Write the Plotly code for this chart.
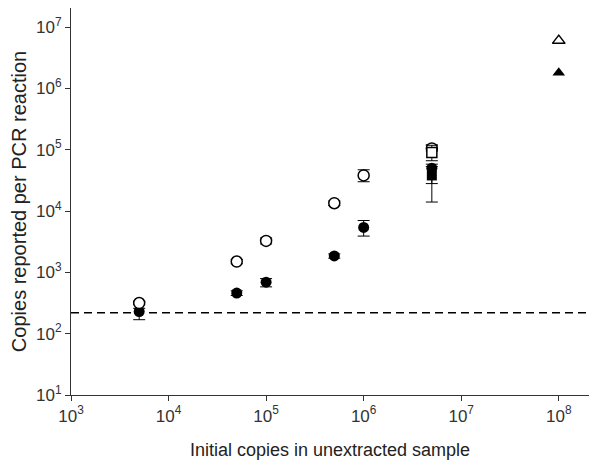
import plotly.graph_objects as go

# data
x_circles = [5e3, 5e4, 1e5, 5e5, 1e6, 5e6]

open_circle_y = [316, 1500, 3250, 13400, 38000, 105000]
open_circle_plus = [20, 120, 400, 1200, 9000, 15000]
open_circle_minus = [20, 120, 350, 1100, 8000, 10000]

filled_circle_y = [229, 460, 690, 1850, 5400, 50000]
filled_circle_plus = [30, 40, 100, 150, 1600, 8000]
filled_circle_minus = [60, 40, 110, 150, 1500, 22000]

x_squares = [5e6]
open_square_y = [90000]
open_square_plus = [28000]
open_square_minus = [24000]
filled_square_y = [38000]
filled_square_plus = [15000]
filled_square_minus = [24000]

x_triangles = [1e8]
open_triangle_y = [6.0e6]
filled_triangle_y = [1.8e6]

detection_limit = 220

tick_exps = [1, 2, 3, 4, 5, 6, 7, 8]


def err(plus, minus):
    return dict(type="data", symmetric=False, array=plus, arrayminus=minus,
                color="black", thickness=1, width=6)


fig = go.Figure()

fig.add_trace(go.Scatter(x=x_circles, y=filled_circle_y, mode="markers",
                         marker=dict(symbol="circle", size=11, color="black"),
                         error_y=err(filled_circle_plus, filled_circle_minus)))
fig.add_trace(go.Scatter(x=x_circles, y=open_circle_y, mode="markers",
                         marker=dict(symbol="circle", size=11, color="white",
                                     line=dict(color="black", width=1.5)),
                         error_y=err(open_circle_plus, open_circle_minus)))
fig.add_trace(go.Scatter(x=x_squares, y=filled_square_y, mode="markers",
                         marker=dict(symbol="square", size=10, color="black"),
                         error_y=err(filled_square_plus, filled_square_minus)))
fig.add_trace(go.Scatter(x=x_squares, y=open_square_y, mode="markers",
                         marker=dict(symbol="square", size=10, color="white",
                                     line=dict(color="black", width=1.5)),
                         error_y=err(open_square_plus, open_square_minus)))
fig.add_trace(go.Scatter(x=x_triangles, y=filled_triangle_y, mode="markers",
                         marker=dict(symbol="triangle-up", size=11, color="black")))
fig.add_trace(go.Scatter(x=x_triangles, y=open_triangle_y, mode="markers",
                         marker=dict(symbol="triangle-up", size=11, color="white",
                                     line=dict(color="black", width=1.5))))

fig.add_shape(type="line", xref="paper", x0=0, x1=1, yref="y",
              y0=detection_limit, y1=detection_limit,
              line=dict(color="black", width=1.5, dash="8px,5px"))

tick_text = ["10<sup>%d</sup>" % e for e in tick_exps]

# page body adds 8px, so the figure is a bit smaller than the window
fig.update_layout(
    width=593, height=459,
    margin=dict(l=63, r=12, t=0, b=72, autoexpand=False),
    paper_bgcolor="white", plot_bgcolor="white",
    showlegend=False,
    font=dict(family="Liberation Sans, Arial, sans-serif", color="#222", size=17),
    xaxis=dict(type="log", range=[3, 8.31], automargin=False,
               tickvals=[10 ** e for e in tick_exps[2:]], ticktext=tick_text[2:],
               tickfont=dict(size=17, color="#333"),
               showline=True, linecolor="#333", linewidth=1.2, mirror=False,
               ticks="outside", ticklen=5, tickcolor="#333",
               showgrid=False, zeroline=False,
               title=dict(text="Initial copies in unextracted sample",
                          font=dict(size=18), standoff=18)),
    yaxis=dict(type="log", range=[1, 7.31], automargin=False,
               tickvals=[10 ** e for e in tick_exps[:7]], ticktext=tick_text[:7],
               tickfont=dict(size=17, color="#333"),
               showline=True, linecolor="#333", linewidth=1.2, mirror=False,
               ticks="outside", ticklen=5, tickcolor="#333",
               showgrid=False, zeroline=False,
               title=dict(text="Copies reported per PCR reaction",
                          font=dict(size=20), standoff=6)),
)

fig.write_html("out.html")
